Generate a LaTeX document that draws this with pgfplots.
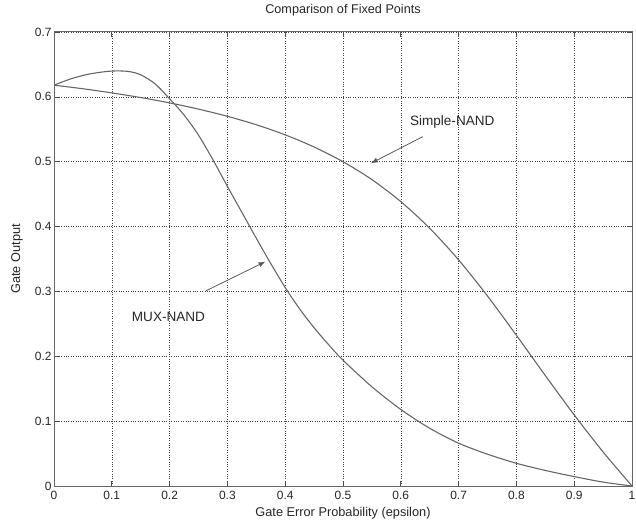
\documentclass[border=0pt]{standalone}
\usepackage{fontspec}
\setmainfont{Liberation Sans}
\usepackage{pgfplots}
\pgfplotsset{compat=1.18}
\usetikzlibrary{arrows.meta}

% Fixed point of the gate output versus gate error probability
\pgfplotstableread{
eps   z
0.00  0.6180
0.05  0.6125
0.10  0.6061
0.15  0.5989
0.20  0.5907
0.25  0.5811
0.30  0.5700
0.35  0.5570
0.40  0.5414
0.45  0.5227
0.50  0.5000
0.55  0.4724
0.60  0.4385
0.65  0.3974
0.70  0.3486
0.75  0.2929
0.80  0.2324
0.85  0.1703
0.90  0.1096
0.95  0.0525
1.00  0.0000
}\simplenand

\pgfplotstableread{
eps   z
0.00  0.618
0.03  0.628
0.06  0.635
0.09  0.639
0.11  0.640
0.13  0.639
0.15  0.634
0.175 0.620
0.20  0.597
0.225 0.572
0.25  0.541
0.275 0.503
0.30  0.462
0.325 0.422
0.35  0.382
0.375 0.343
0.40  0.306
0.425 0.273
0.45  0.244
0.475 0.218
0.50  0.194
0.55  0.153
0.60  0.118
0.65  0.089
0.70  0.066
0.75  0.049
0.80  0.035
0.85  0.024
0.90  0.0145
0.95  0.006
1.00  0.000
}\muxnand

\begin{document}
\begin{tikzpicture}
\path[use as bounding box] (-54bp,-37bp) rectangle (582bp,486bp);
\begin{axis}[
  at={(0,0)}, anchor=south west,
  scale only axis, width=578bp, height=454bp,
  xmin=0, xmax=1, ymin=0, ymax=0.7,
  xtick={0,0.1,0.2,0.3,0.4,0.5,0.6,0.7,0.8,0.9,1},
  ytick={0,0.1,0.2,0.3,0.4,0.5,0.6,0.7},
  grid=major,
  major grid style={dotted, black!75, line width=0.6pt},
  tick align=inside,
  major tick length=5bp,
  tick style={black!70, line width=0.7pt},
  axis line style={black!60, line width=1pt},
  tick label style={font=\fontsize{12}{13}\selectfont, text=black!85,
    /pgf/number format/assume math mode=true},
  xticklabel style={yshift=-2bp},
  yticklabel style={xshift=1bp},
  title={Comparison of Fixed Points},
  title style={font=\fontsize{12.7}{14}\selectfont, text=black!85,
    at={(axis description cs:0.5,1)}, anchor=center, yshift=16bp},
  xlabel={Gate Error Probability (epsilon)},
  xlabel style={font=\fontsize{12.8}{14}\selectfont, text=black!85,
    at={(axis description cs:0.5,0)}, anchor=center, yshift=-27bp},
  ylabel={Gate Output},
  ylabel style={font=\fontsize{12.8}{14}\selectfont, text=black!85,
    at={([xshift=-37bp]axis description cs:0,0.5)}, anchor=center},
]
\addplot[black!60, line width=1.1pt, no markers, smooth] table[x=eps, y=z] {\simplenand};
\addplot[black!60, line width=1.1pt, no markers, smooth] table[x=eps, y=z] {\muxnand};

\node[font=\fontsize{13.6}{15}\selectfont, text=black!85] at (axis cs:0.689,0.561) {Simple-NAND};
\draw[black!65, line width=0.8pt, -{Latex[length=7bp,width=5bp]}]
  (axis cs:0.638,0.5386) -- (axis cs:0.548,0.4975);

\node[font=\fontsize{13.6}{15}\selectfont, text=black!85] at (axis cs:0.198,0.260) {MUX-NAND};
\draw[black!65, line width=0.8pt, -{Latex[length=7bp,width=5bp]}]
  (axis cs:0.263,0.301) -- (axis cs:0.366,0.346);
\end{axis}
\end{tikzpicture}
\end{document}
